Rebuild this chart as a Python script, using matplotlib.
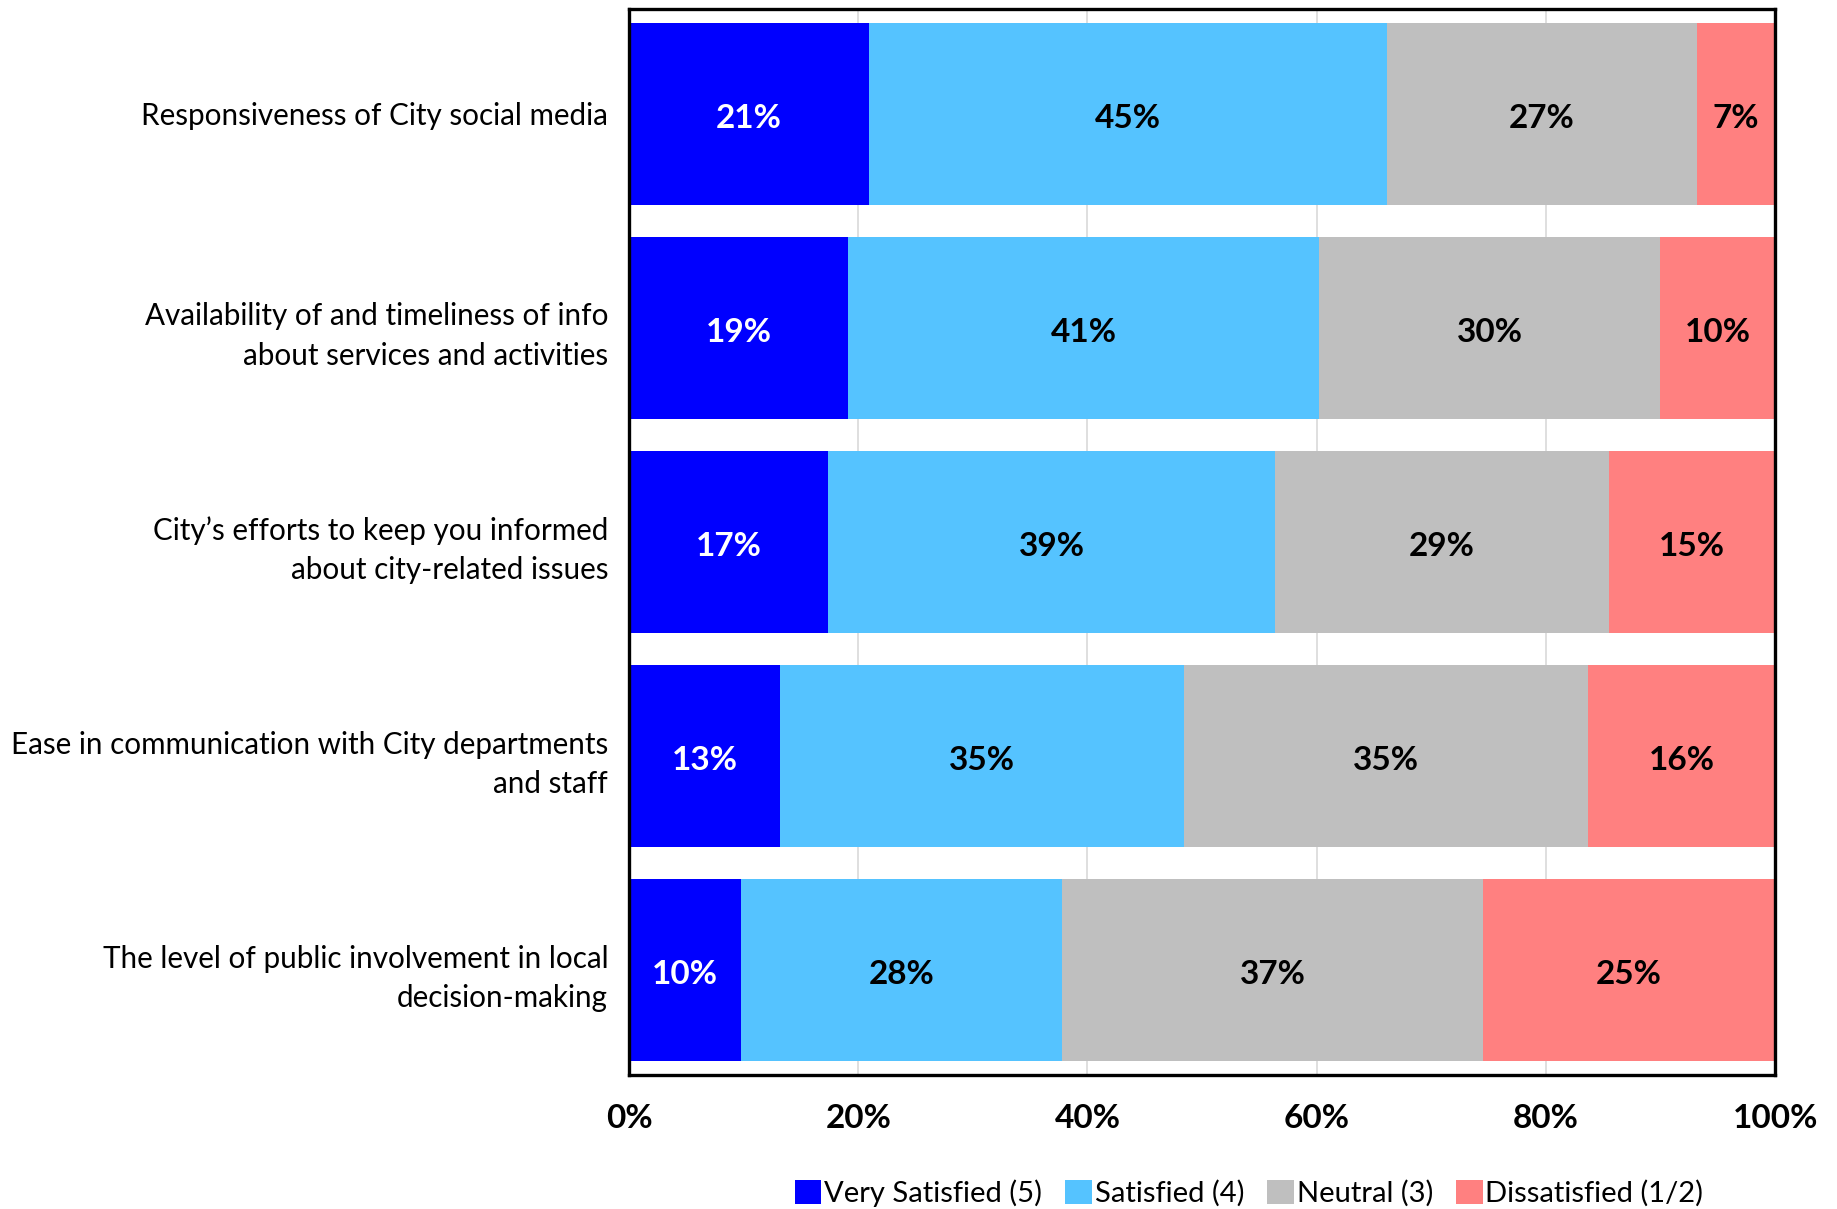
import matplotlib
matplotlib.use("Agg")
import matplotlib.pyplot as plt
import numpy as np

plt.rcParams['font.family'] = ['Lato', 'DejaVu Sans']

categories = [
    "Responsiveness of City social media",
    "Availability of and timeliness of info\nabout services and activities",
    "City\u2019s efforts to keep you informed\nabout city-related issues",
    "Ease in communication with City departments\nand staff",
    "The level of public involvement in local\ndecision-making",
]
very_satisfied = [20.9, 19.1, 17.4, 13.2, 9.8]
satisfied = [45.2, 41.1, 39.0, 35.2, 28.0]
neutral = [27.1, 29.8, 29.1, 35.3, 36.7]
dissatisfied = [6.8, 10.0, 14.5, 16.3, 25.5]
labels_vs = ["21%", "19%", "17%", "13%", "10%"]
labels_s = ["45%", "41%", "39%", "35%", "28%"]
labels_n = ["27%", "30%", "29%", "35%", "37%"]
labels_d = ["7%", "10%", "15%", "16%", "25%"]
series_names = ["Very Satisfied (5)", "Satisfied (4)", "Neutral (3)", "Dissatisfied (1/2)"]
colors = ["#0000FF", "#55C3FF", "#BFBFBF", "#FF8080"]
text_colors = ["white", "black", "black", "black"]
xticks = [0, 20, 40, 60, 80, 100]
xtick_labels = ["0%", "20%", "40%", "60%", "80%", "100%"]

fig = plt.figure(figsize=(18.37, 12.09), dpi=100)
ax = fig.add_axes([0.3424, 0.1108, 0.6239, 0.8818])

y = np.arange(len(categories))
series = [very_satisfied, satisfied, neutral, dissatisfied]
lab_sets = [labels_vs, labels_s, labels_n, labels_d]
left = np.zeros(len(categories))
handles = []
for vals, col, tc, labs, name in zip(series, colors, text_colors, lab_sets, series_names):
    vals = np.array(vals)
    b = ax.barh(y, vals, left=left, height=0.85, color=col, edgecolor='none', label=name, zorder=2)
    handles.append(b)
    for yi, (l, v, t) in enumerate(zip(left, vals, labs)):
        ax.text(l + v / 2, yi + 0.02, t, ha='center', va='center', color=tc,
                fontsize=24, fontweight='bold', zorder=3)
    left = left + vals

ax.set_xlim(0, 100)
ax.set_ylim(len(categories) - 0.5 - 0.01, -0.5 + 0.01)
ax.set_yticks(y)
ax.set_yticklabels(categories, fontsize=21.3, linespacing=1.5)
ax.set_xticks(xticks)
ax.set_xticklabels(xtick_labels, fontsize=24, fontweight='bold')
ax.tick_params(axis='y', length=0, pad=15)
ax.tick_params(axis='x', length=0, pad=21)
ax.xaxis.grid(True, color='#D9D9D9', linewidth=1.2, zorder=0)
ax.set_axisbelow(True)
for s in ax.spines.values():
    s.set_linewidth(2.4)
    s.set_color('black')

fig.legend(handles=handles, labels=series_names, loc='center', bbox_to_anchor=(0.68, 0.013),
           ncol=4, frameon=False, fontsize=21, handlelength=0.9, handleheight=0.9,
           handletextpad=0.1, columnspacing=0.8, borderaxespad=0)

fig.savefig("out.png", dpi=100)
